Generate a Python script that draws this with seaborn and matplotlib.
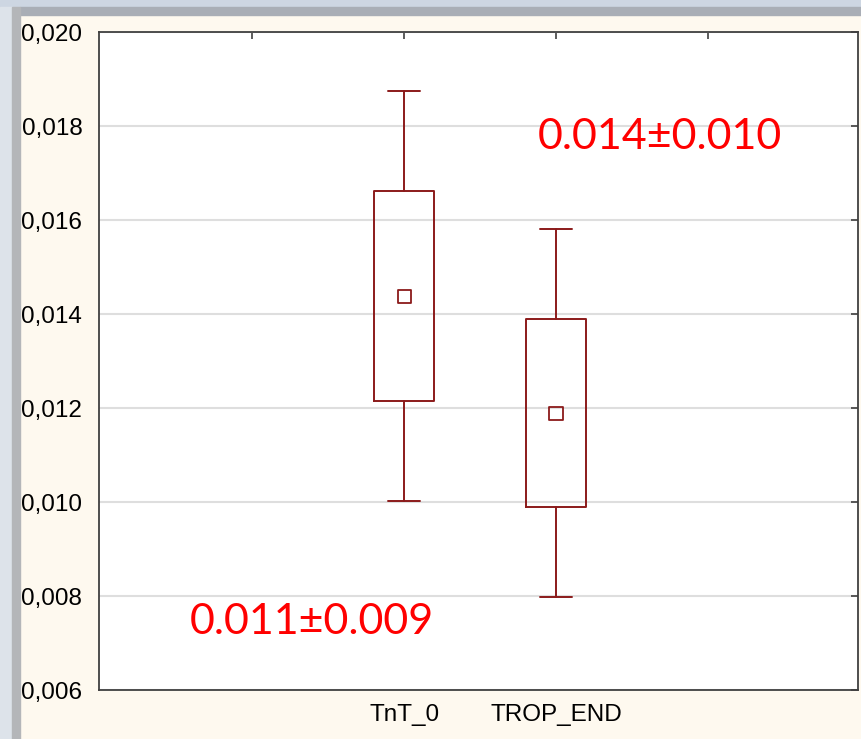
import matplotlib
matplotlib.use("Agg")
import matplotlib.pyplot as plt
import matplotlib.patches as mpatches
import seaborn as sns
import pandas as pd

# Data (mean, +-SE box, +-SD whiskers)
groups = ["TnT_0", "TROP_END"]
positions = [2, 3]
means = [0.01438, 0.01189]
box_low = [0.01215, 0.00989]
box_high = [0.01662, 0.01389]
whisk_low = [0.01002, 0.00798]
whisk_high = [0.01874, 0.01581]
y_ticks = [0.006, 0.008, 0.010, 0.012, 0.014, 0.016, 0.018, 0.020]
note_top = "0.014±0.010"
note_bottom = "0.011±0.009"

sns.set_style("white")
plt.rcParams['font.family'] = ['Liberation Sans', 'DejaVu Sans']

box_color = "#8b1a1a"
cream = "#fef9ef"

fig = plt.figure(figsize=(8.61, 7.39), dpi=100)
fig.patch.set_facecolor(cream)

# window frame of the original screenshot
fig.add_artist(mpatches.Rectangle((0, 1 - 7 / 739), 1, 7 / 739, transform=fig.transFigure,
                                  color="#cdd6e2", zorder=0))
fig.add_artist(mpatches.Rectangle((20 / 861, 1 - 15 / 739), 1, 8 / 739, transform=fig.transFigure,
                                  color="#a9aeb6", zorder=0))
fig.add_artist(mpatches.Rectangle((0, 0), 12 / 861, 1 - 7 / 739, transform=fig.transFigure,
                                  color="#dde3ea", zorder=0))
fig.add_artist(mpatches.Rectangle((12 / 861, 0), 8 / 861, 1 - 7 / 739, transform=fig.transFigure,
                                  color="#b4b6b9", zorder=0))

ax = fig.add_axes([99 / 861, 1 - 690 / 739, 759 / 861, 658 / 739])
ax.set_facecolor("white")

stats = []
for i, g in enumerate(groups):
    stats.append({
        "label": g,
        "med": means[i],
        "q1": box_low[i],
        "q3": box_high[i],
        "whislo": whisk_low[i],
        "whishi": whisk_high[i],
        "fliers": [],
    })

line_kw = dict(color=box_color, linewidth=1.4)
ax.bxp(stats, positions=positions, widths=0.4, showfliers=False,
       boxprops=line_kw, whiskerprops=line_kw, capprops=line_kw,
       medianprops=dict(linewidth=0), capwidths=0.21)

df = pd.DataFrame({"pos": positions, "mean": means})
sns.scatterplot(data=df, x="pos", y="mean", marker="s", s=90,
                facecolor="none", edgecolor=box_color, linewidth=1.3, ax=ax, zorder=5)

ax.set_xlim(-0.01, 4.99)
ax.set_ylim(0.006, 0.020)
ax.set_yticks(y_ticks)
ax.set_yticklabels([f"{v:.3f}".replace(".", ",") for v in y_ticks])
ax.set_xticks([1, 2, 3, 4])
ax.set_xticklabels(["", groups[0], groups[1], ""])
ax.set_xlabel("")
ax.set_ylabel("")

ax.yaxis.grid(True, color="#dedede", linewidth=1.5)
ax.set_axisbelow(True)
ax.tick_params(direction="in", length=5, width=1.2, color="#404040",
               top=True, right=True, labelsize=17.5, labelcolor="black")
ax.tick_params(axis="y", pad=12)
ax.tick_params(axis="x", pad=10, labelsize=17.5)
for s in ax.spines.values():
    s.set_visible(True)
    s.set_color("#404040")
    s.set_linewidth(1.3)

ax.text(3.686, 0.01751, note_top, color="red", fontsize=31, family="Lato",
        ha="center", va="baseline")
ax.text(1.393, 0.00719, note_bottom, color="red", fontsize=31, family="Lato",
        ha="center", va="baseline")

fig.savefig("out.png", dpi=100, facecolor=fig.get_facecolor())
